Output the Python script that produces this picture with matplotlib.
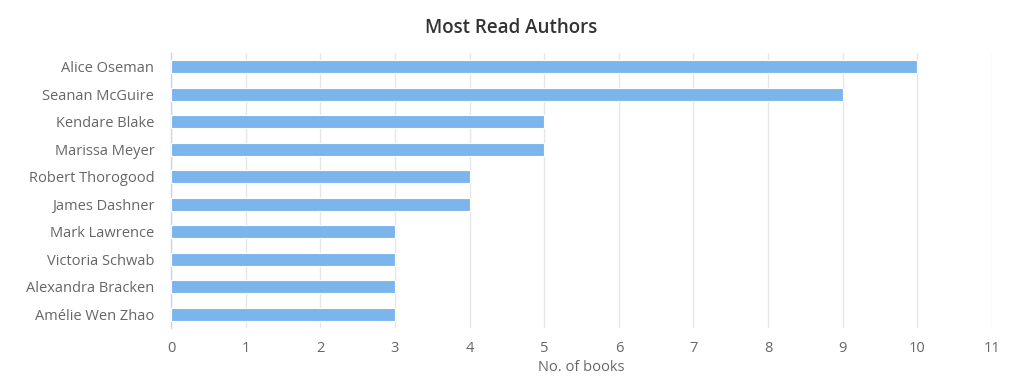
import matplotlib
matplotlib.use("Agg")
from matplotlib import pyplot as plt

authors = ["Alice Oseman", "Seanan McGuire", "Kendare Blake", "Marissa Meyer",
           "Robert Thorogood", "James Dashner", "Mark Lawrence", "Victoria Schwab",
           "Alexandra Bracken", "Amélie Wen Zhao"]
books = [10, 9, 5, 5, 4, 4, 3, 3, 3, 3]
x_ticks = list(range(0, 12))

plt.rcParams['font.family'] = ['Open Sans', 'DejaVu Sans']

fig = plt.figure(figsize=(10.23, 3.9), dpi=100)
ax = fig.add_axes([171 / 1023, 1 - 328 / 390, (992 - 171) / 1023, (328 - 53) / 390])

pos = list(range(len(authors)))
ax.barh(pos, books, height=0.47, color="#7cb5ec", edgecolor="white", linewidth=0.8, zorder=3)

ax.set_ylim(len(authors) - 0.5, -0.5)
ax.set_xlim(0, 11)
ax.set_xticks(x_ticks)
ax.set_yticks(pos)
ax.set_yticklabels(authors)

ax.grid(axis="x", color="#e6e6e6", linewidth=1, zorder=0)
for s in ["top", "right", "bottom"]:
    ax.spines[s].set_visible(False)
ax.spines["left"].set_color("#ccd6eb")
ax.spines["left"].set_linewidth(1)

ax.tick_params(axis="both", length=0, labelsize=10.5, labelcolor="#666666")
ax.tick_params(axis="x", pad=9)
ax.tick_params(axis="y", pad=12)

ax.set_xlabel("No. of books", fontsize=10.5, color="#666666", labelpad=3)
fig.text(0.5, 1 - 28 / 390, "Most Read Authors", ha="center", va="center",
         fontsize=13.5, color="#333333", fontweight="semibold")

fig.savefig("out.png", dpi=100)
